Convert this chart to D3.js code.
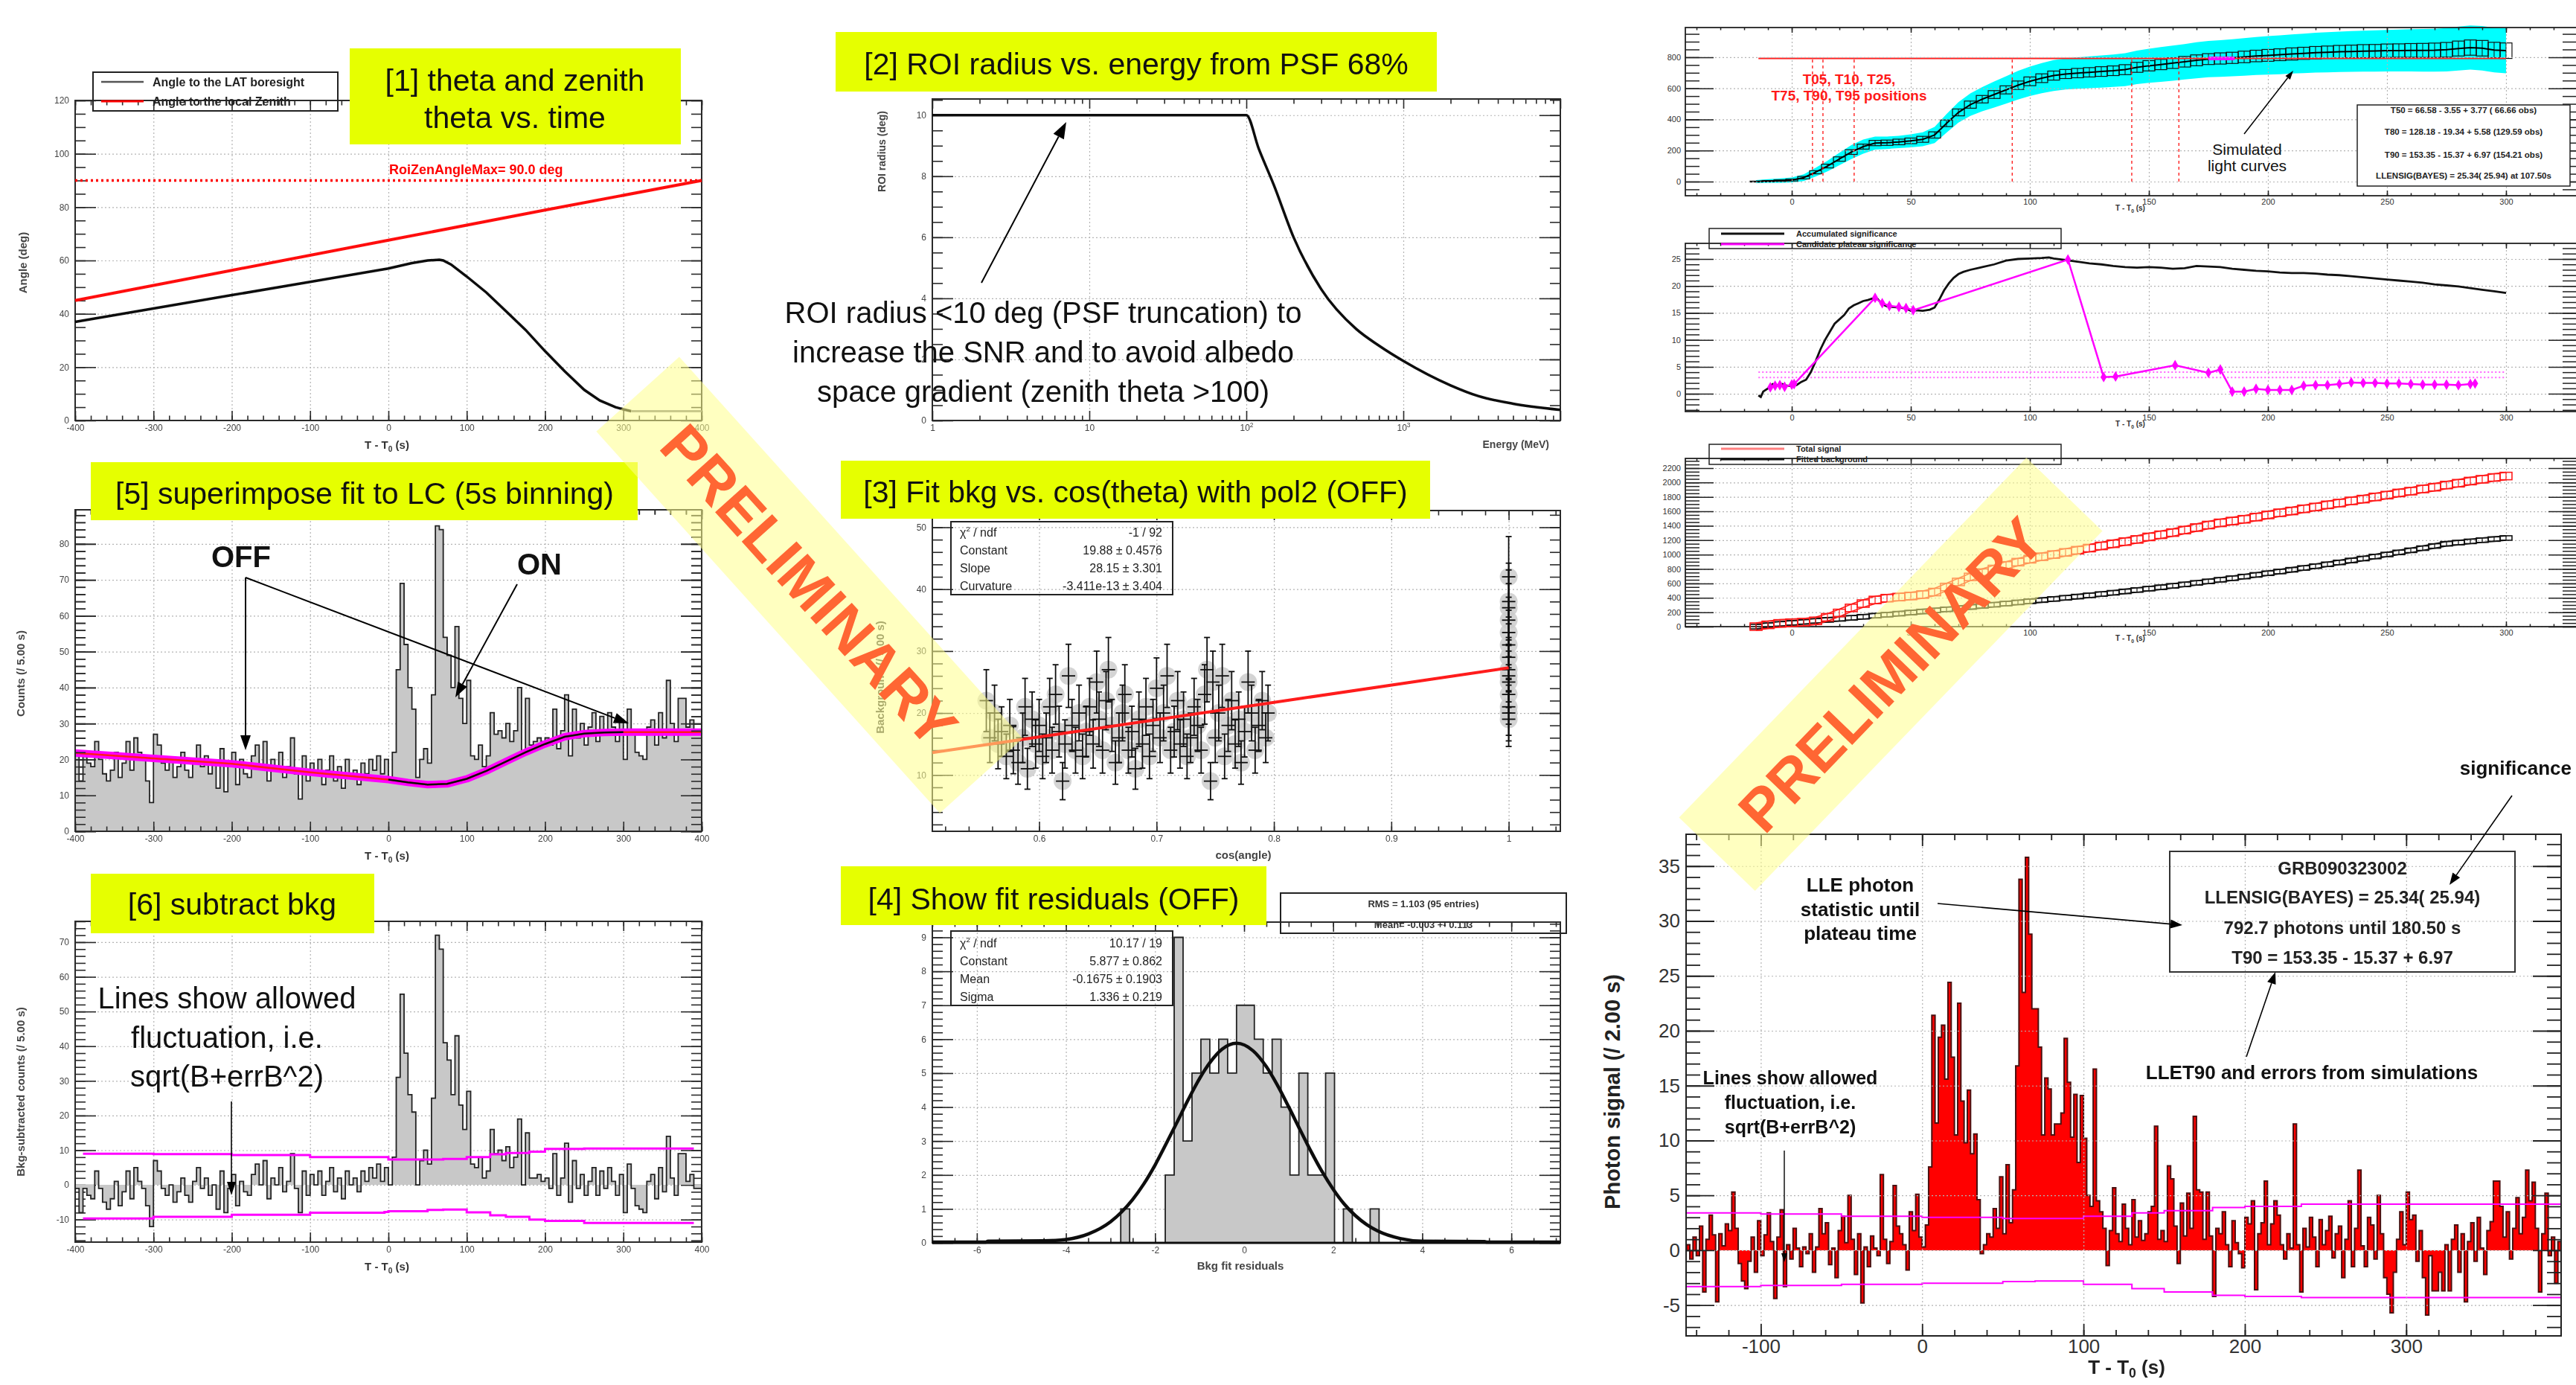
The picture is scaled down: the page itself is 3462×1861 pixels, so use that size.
<!DOCTYPE html>
<html><head><meta charset="utf-8">
<script src="https://cdn.jsdelivr.net/npm/d3@7/dist/d3.min.js"></script>
<style>
html,body{margin:0;padding:0;background:#fff;overflow:hidden;}
svg{display:block;}
</style></head><body>
<svg id="c" width="3462" height="1861" viewBox="0 0 3462 1861"></svg>
<script>
// ================= DATA =================
// [1] theta and zenith theta vs time
const boreT = [-400,-300,-200,-100,0,30,50,65,70,80,100,125,150,175,200,225,250,270,290,300,310];
const boreV = [37,42,47,52,57,59,60,60.3,60,58.5,54,48,41,34,26,18.5,11.5,7.5,5,4.2,3.5];
const boreTailT = [310,400];
const boreTailV = [3.5,3.5];
const zenT = [-400,-200,0,200,400];
const zenV = [45,56.3,67.6,78.9,90];
const roiZenMax = 90;

// [2] ROI radius vs energy
const psfE = [1,10,100,120,150,200,300,500,700,1000,2000,3000,5000,10000];
const psfR = [10,10,10,8.9,7.7,6.0,4.3,3.0,2.45,1.95,1.15,0.8,0.55,0.35];

// [5] light curve 5 s bins from -400 s
const lc5Start = -400, lc5Width = 5;
const lc5Counts = [21,14,21,19,18,25,20,16,14,17, 22,15,19,25,17,26,22,20,14,8,
 27,24,19,17,20,15,18,22,17,15, 20,24,18,21,16,19,12,23,11,18,
 22,13,20,16,15,21,24,18,25,14, 20,17,22,15,18,26,16,9,21,14,
 19,16,20,13,17,21,14,18,12,20, 15,17,13,19,16,20,17,21,16,20,
 14,22,45,69,52,40,34,15,20,23, 19,38,85,84,54,49,40,57,37,30,
 42,21,20,24,18,21,33,27,28,26, 30,25,28,40,22,37,24,25,26,25,
 26,24,34,23,28,38,21,34,26,30, 24,29,33,25,32,27,33,29,25,31,
 20,34,27,22,21,20,29,31,24,33, 26,42,30,25,37,37,29,31,27,27];
const bkgT = [-400,-300,-200,-100,0,25,50,75,100,125,150,175,200,225,250,275,300,400];
const bkgV = [21.8,20.3,18.8,16.4,14.4,13.6,13.0,13.2,14.6,16.8,19.4,22.0,24.3,26.3,27.2,27.5,27.6,27.6];

// [6] background subtracted
const sub5Counts = [-1,-8,-1,-3,-4,4,-1,-5,-7,-4, 1,-6,-2,4,-4,5,1,-1,-6,-12,
 7,4,-1,-3,0,-5,-2,2,-3,-5, 1,5,-1,2,-3,0,-7,4,-8,-1,
 3,-6,1,-2,-3,3,6,0,7,-4, 2,0,5,-2,1,9,-1,-8,4,-3,
 3,0,4,-3,1,5,-2,2,-4,4, 0,2,-2,4,1,5,2,6,1,5,
 0,8,31,55,38,26,21,0,7,10, 6,25,72,68,41,36,26,43,23,16,
 27,6,5,8,2,4,16,9,10,7, 11,5,8,19,0,15,2,2,3,1,
 2,-1,9,-3,2,12,-5,7,-1,3, -3,1,5,-3,4,-1,5,1,-3,3,
 -8,6,-1,-6,-7,-8,1,3,-4,5, -2,14,2,-3,9,9,1,3,-1,-1];
const flucT = [-390,-300,-200,-100,-5,0,50,70,100,130,150,180,200,250,300,390];
const flucUp = [9.0,8.9,8.6,8.0,8.0,7.3,7.3,7.5,8.0,8.8,9.2,9.6,10.4,10.5,10.5,10.5];
const flucLo = [-9.7,-9.2,-8.6,-8.0,-7.8,-7.6,-7.2,-7.1,-7.9,-8.8,-9.2,-10.0,-10.4,-11.0,-11.0,-11.0];

// [3] background vs cos(theta)
const cosX = [0.555,0.558,0.562,0.565,0.568,0.572,0.575,0.578,0.582,0.586,0.588,0.590,0.594,0.597,0.600,0.603,0.606,0.609,0.611,0.614,
 0.617,0.620,0.622,0.625,0.628,0.631,0.634,0.637,0.640,0.643,0.646,0.649,0.651,0.654,0.657,0.659,0.662,0.665,0.668,0.671,
 0.673,0.676,0.679,0.682,0.685,0.688,0.691,0.694,0.697,0.700,0.703,0.706,0.709,0.712,0.715,0.718,0.720,0.723,0.726,0.729,
 0.732,0.735,0.738,0.741,0.743,0.746,0.748,0.750,0.753,0.756,0.758,0.761,0.764,0.767,0.770,0.772,0.775,0.778,0.781,0.784,
 0.787,0.790,0.793,0.795,1,1,1,1,1,1,1,1,1,1,1,1,1,1];
const cosBkg = [22,16,20,15,17,13,18,14,12,16,21,11,19,15,18,13,16,21,14,23,17,9,15,26,18,14,20,13,17,21,
 15,25,19,14,22,27,18,12,16,20,23,14,17,11,19,15,21,13,18,24,16,20,26,14,17,22,15,19,13,16,
 21,18,14,23,27,9,25,16,20,26,13,18,22,15,19,12,17,25,20,14,18,22,16,20,
 19,20,21,23,25,26,27,29,31,33,35,37,38,42];
const cosErr = [5,4,4.5,4,4,3.6,4.2,3.8,3.5,4,4.6,3.3,4.4,3.9,4.2,3.6,4,4.6,3.7,4.8,4.1,3,3.9,5.1,4.2,3.7,4.5,3.6,4.1,4.6,
 3.9,5,4.4,3.7,4.7,5.2,4.2,3.5,4,4.5,4.8,3.7,4.1,3.3,4.4,3.9,4.6,3.6,4.2,4.9,4,4.5,5.1,3.7,4.1,4.7,3.9,4.4,3.6,4,
 4.6,4.2,3.7,4.8,5.2,3,5,4,4.5,5.1,3.6,4.2,4.7,3.9,4.4,3.5,4.1,5,4.5,3.7,4.2,4.7,4,4.5,
 4.4,4.5,4.6,4.8,5,5.1,5.2,5.4,5.6,5.7,5.9,6.1,6.2,6.5];
const fitCosX = [0.509,1.0];
const fitCosY = [13.6,27.3];
const stats3 = [["χ²/ ndf","-1 / 92"],["Constant","19.88 ± 0.4576"],["Slope","28.15 ± 3.301"],["Curvature","-3.411e-13 ± 3.404"]];

// [4] residuals
const resStart = -2.77, resWidth = 0.2;
const resCounts = [1,0,0,0,0,2,9,3,5,6,5,6,5,7,7,6,5,6,4,2,5,2,2,5,0,1,0,0,1];
const gausX = [-7,-5.8,-5.75,-4.5,-4,-3.5,-3,-2.75,-2.5,-2.25,-2,-1.75,-1.5,-1.25,-1,-0.75,-0.5,-0.17,0.2,0.5,0.75,1,1.25,1.5,1.75,2,2.25,2.5,2.75,3,3.5,4,5.4,5.45,7.1];
const gausY = [0.02,0.02,0.05,0.06,0.1,0.26,0.62,0.91,1.28,1.74,2.29,2.92,3.57,4.23,4.84,5.34,5.70,5.88,5.66,5.19,4.64,4.01,3.35,2.70,2.10,1.58,1.14,0.80,0.54,0.35,0.13,0.05,0.04,0.02,0.02];
const stats4 = [["χ²/ ndf","10.17 / 19"],["Constant","5.877 ± 0.862"],["Mean","-0.1675 ± 0.1903"],["Sigma","1.336 ± 0.219"]];

// Right top: cumulative light curve + simulations
const cumT = [-15,-10,-5,0,5,10,15,20,25,30,35,40,45,50,55,60,65,70,75,80,85,90,95,100,105,110,115,120,125,130,135,140,145,150,155,160,165,170,175,180,185,190,195,200,205,210,215,220,225,230,235,240,245,250,255,260,265,270,275,280,285,290,295,300];
const cumV = [0,3,6,10,25,60,100,145,190,225,248,250,255,262,272,300,375,445,495,530,560,590,620,645,665,682,692,698,703,708,713,720,735,745,753,762,771,780,788,792,796,802,808,812,816,821,825,829,832,835,837,839,840,842,843,844,844,845,848,856,862,858,846,842];
const cumErr = [3,4,5,6,8,10,12,14,15,16,17,17,18,18,19,20,21,22,23,24,25,26,27,28,28,29,29,30,30,31,31,32,32,33,33,34,34,35,35,36,36,37,37,38,38,39,39,40,40,41,41,42,42,43,43,44,45,46,47,48,49,50,50,50];
const simErr = [10,12,14,16,22,28,34,40,45,45,42,40,40,42,45,52,60,66,72,78,84,88,92,95,97,99,100,101,102,103,104,106,108,110,112,113,114,116,117,118,119,121,122,124,125,126,127,128,129,130,131,132,133,134,135,136,137,138,140,141,142,143,144,145];
const plateauPhotons = 792.7;
const plateauT = [-14,300];
const tPositions = [8.7,13.1,26.2,92.6,142.8,162.6];
const simStats = ["T50 =  66.58 -   3.55 +   3.77 ( 66.66 obs)","T80 = 128.18 -  19.34 +   5.58 (129.59 obs)","T90 = 153.35 -  15.37 +   6.97 (154.21 obs)","LLENSIG(BAYES) =  25.34( 25.94) at 107.50s"];

// Right middle: significance
const sigT = [-14,-13,-12,-10,-8,-6,-4,-2,0,2,4,6,8,10,12,14,16,18,20,22,24,26,28,30,32,34,36,38,40,42,45,48,50,52,55,58,60,62,64,66,68,70,72,75,78,80,85,90,95,100,105,108,110,115,120,125,130,135,140,145,150,155,160,165,170,175,180,185,190,195,200,205,210,215,220,225,230,235,240,245,250,255,260,265,270,275,280,285,290,295,300];
const sigV = [-0.3,-0.6,0.4,1.0,1.8,1.6,1.8,1.5,1.4,1.6,2.2,2.6,4.0,6.0,8.2,10.0,11.5,13.0,13.8,14.6,15.8,16.4,16.8,17.2,17.4,17.7,17.6,16.6,16.2,16.1,16.0,15.8,15.4,15.5,15.4,15.6,16.0,17.5,19.2,20.5,21.5,22.2,22.6,23.0,23.3,23.5,24.0,24.7,25.0,25.1,25.2,25.3,25.1,24.8,24.5,24.2,24.0,23.7,23.5,23.4,23.5,23.4,23.2,23.3,23.7,23.6,23.5,23.2,23.0,22.8,22.7,22.5,22.4,22.4,22.3,22.1,22.0,21.8,21.6,21.4,21.2,21.0,20.8,20.6,20.3,20.1,19.9,19.6,19.3,19.0,18.7];
const plT = [-9,-7,-5,-3,0,1,35,38,41,45,48,51,116,131,136,161,175,180,185,190,195,200,205,210,215,220,225,230,235,240,245,250,255,260,265,270,275,280,285,287];
const plV = [1.2,1.5,1.6,1.3,1.7,1.8,17.8,16.8,16.3,16.1,15.9,15.5,24.9,3.1,3.2,5.3,3.9,4.5,0.4,0.4,0.9,0.7,0.7,0.7,1.5,1.6,1.6,1.8,2.1,2.0,2.0,1.9,1.9,1.8,1.7,1.7,1.7,1.6,1.8,1.9];
const sigThresholds = [3,4];

// Right lower: total signal vs fitted background
const totV = [0,25,45,55,62,80,130,190,260,320,370,395,410,425,445,480,550,620,690,750,800,850,895,935,970,1000,1030,1060,1090,1120,1150,1180,1210,1245,1275,1305,1340,1375,1410,1440,1465,1490,1520,1550,1580,1605,1635,1660,1690,1715,1745,1770,1800,1825,1855,1880,1910,1935,1965,1990,2020,2045,2070,2090];
const fbkV = [0,20,38,52,66,80,94,108,122,137,152,166,180,195,210,225,240,256,272,288,304,320,336,352,368,384,400,417,434,452,470,489,508,527,546,566,586,607,628,650,672,695,718,741,765,789,814,839,865,891,918,945,973,1001,1030,1059,1089,1119,1150,1166,1183,1200,1215,1230];

// Big panel: LLE photon signal, 2 s bins from -146 s
const lleStart = -146, lleWidth = 2;
const lleSignal = [0.5,-0.8,1.2,-0.5,2.2,-3.8,1.0,3.2,1.4,-4.7,
 1.5,0.4,2.4,1.8,5.3,2.0,-1.2,-2.8,-3.5,-1.0,
 1.2,-2.0,2.7,-0.5,1.4,3.4,0.8,-4.4,1.2,3.7,
 -3.3,0.5,-0.8,2.0,0.2,-1.5,0.3,-0.3,1.5,-2.0,
 0.3,3.8,1.5,2.5,-1.3,0.2,-2.5,1.8,3.1,0.7,
 5.0,1.0,-2.2,1.5,-4.8,0.3,-1.5,1.3,0.2,-0.5,
 6.9,1.0,-1.2,0.8,5.9,2.2,1.5,0.5,-1.8,3.5,
 1.8,5.1,1.2,0.3,2.3,7.6,21.4,11.6,19.4,20.5,
 15.6,24.4,17.6,10.5,22.5,13.6,9.8,14.6,8.8,10.6,
 4.6,-0.3,0.5,1.5,1.2,3.8,2.0,6.7,1.5,7.8,
 2.5,5.5,16.8,33.8,23.5,35.8,28.8,22.0,22.0,18.5,
 10.5,15.7,14.7,10.5,11.5,11.5,12.5,19.3,15.3,10.3,
 14.2,8.0,14.1,10.2,5.0,4.0,16.5,4.5,3.5,2.0,
 -1.4,1.8,5.7,1.5,0.8,4.2,2.0,0.5,4.6,1.2,
 2.7,0.9,1.5,3.5,4.0,11.3,1.0,1.8,0.8,7.7,
 6.5,2.2,-1.2,4.3,1.3,5.2,2.0,12.2,5.5,5.3,
 1.0,5.3,1.3,-4.2,2.0,1.5,3.5,0.5,-1.5,2.7,
 0.7,-0.3,-1.6,3.0,2.4,4.5,-3.6,1.5,2.5,6.3,
 0.5,2.4,4.5,3.2,0.5,-0.8,1.5,0.2,11.5,0.5,
 -3.8,2.0,0.3,3.0,1.2,-1.5,2.8,0.5,1.8,3.1,
 -0.7,1.5,2.2,-2.5,1.0,4.5,-1.5,2.0,7.3,0.4,
 -1.5,3.0,2.3,-0.8,5.0,1.5,-2.5,-4.0,-5.7,-2.0,
 1.0,3.5,0.5,5.3,2.8,3.2,-1.0,1.8,-2.5,-5.9,
 -0.5,-3.7,-3.7,-2.0,-3.7,0.5,-3.7,1.0,2.3,-2.0,
 1.5,-4.7,0.8,2.5,-1.0,3.0,0.2,-2.2,1.8,2.6,
 6.3,6.3,4.0,1.2,3.5,-0.8,2.0,4.8,1.5,3.0,
 7.3,4.5,6.2,2.0,-3.8,1.5,5.2,-0.5,1.2,-3.0,
 0.8];
const lleFlucT = [-146,-100,-50,0,50,70,100,130,150,180,200,235,396];
const lleFlucUp = [3.4,3.3,3.1,3.0,2.9,2.9,3.1,3.4,3.6,3.9,4.0,4.2,4.2];
const lleFlucLo = [-3.3,-3.2,-3.1,-3.0,-2.85,-2.8,-3.1,-3.5,-3.8,-4.1,-4.2,-4.3,-4.3];
const lleStats = ["GRB090323002","LLENSIG(BAYES) =  25.34( 25.94)","792.7 photons until 180.50 s","T90 = 153.35 -  15.37 +   6.97"];

// ================= HELPERS =================
const FONT = "'Liberation Sans', Arial, Helvetica, sans-serif";
const svg = d3.select('#c');
svg.append('rect').attr('width',3462).attr('height',1861).attr('fill','#fff');
const defs = svg.append('defs');
defs.append('filter').attr('id','soft').attr('x','-5%').attr('y','-5%').attr('width','110%').attr('height','110%')
  .append('feGaussianBlur').attr('stdDeviation',0.7);

function rng(a,b,s){const r=[];for(let v=a;v<=b+1e-9;v+=s)r.push(+v.toFixed(6));return r;}

function txt(g,x,y,s,o={}){
  return g.append('text').attr('x',x).attr('y',y).text(s)
    .attr('font-size',o.fs||14).attr('text-anchor',o.anchor||'start')
    .attr('font-weight',o.fw||'normal').attr('fill',o.fill||'#000')
    .attr('font-family',o.ff||FONT);
}
function tLabel(g,x,y,fs,o={}){
  const sub=o.sub||0.28;
  const t=g.append('text').attr('x',x).attr('y',y).attr('text-anchor','middle')
    .attr('font-size',fs).attr('font-family',FONT).attr('font-weight',o.fw||'bold').attr('fill',o.fill||'#222');
  t.append('tspan').text('T - T');
  t.append('tspan').attr('font-size',fs*0.68).attr('dy',fs*sub).text('0');
  t.append('tspan').attr('dy',-fs*sub).text(' (s)');
  return t;
}
function arrow(g,x1,y1,x2,y2,o={}){
  const w=o.w||1.6,h=o.h||16,hw=o.hw||6,col=o.col||'#000';
  const a=Math.atan2(y2-y1,x2-x1);
  const bx=x2-h*Math.cos(a), by=y2-h*Math.sin(a);
  g.append('line').attr('x1',x1).attr('y1',y1).attr('x2',bx).attr('y2',by).attr('stroke',col).attr('stroke-width',w);
  const px=-Math.sin(a)*hw, py=Math.cos(a)*hw;
  g.append('path').attr('d',`M${x2},${y2}L${bx+px},${by+py}L${bx-px},${by-py}Z`).attr('fill',col);
}
function inDom(s){const [a,b]=d3.extent(s.domain());return v=>v>=a-1e-9&&v<=b+1e-9;}

function drawAxes(g,xS,yS,c){
  const [X0,X1]=xS.range(), [Y0,Y1]=yS.range();
  const W=X1-X0,H=Y0-Y1;
  const fx=inDom(xS), fy=inDom(yS);
  const xMaj=c.xMaj.filter(fx), xMin=(c.xMin||[]).filter(fx);
  const yMaj=c.yMaj.filter(fy), yMin=(c.yMin||[]).filter(fy);
  const col=c.col||'#222', tw=c.tw||1.6, lc=c.lc||'#333';
  const st=(s,lab)=>{s.select('.domain').remove();s.selectAll('line').attr('stroke',col).attr('stroke-width',tw);
    if(lab) s.selectAll('text').attr('font-size',c.fs).attr('fill',lc).attr('font-family',FONT).attr('font-weight',c.lw||'normal');};
  if(c.grid!==false){
    const gs=s=>{s.select('.domain').remove();s.selectAll('line').attr('stroke',c.gc||'#b4b4b4').attr('stroke-width',1.2).attr('stroke-dasharray','2,3');};
    g.append('g').attr('transform',`translate(0,${Y0})`).call(d3.axisBottom(xS).tickValues(c.xGrid||xMaj).tickSize(-H).tickFormat('')).call(gs);
    g.append('g').attr('transform',`translate(${X0},0)`).call(d3.axisLeft(yS).tickValues(c.yGrid||yMaj).tickSize(-W).tickFormat('')).call(gs);
  }
  const xf=c.xFmt||(d=>String(d)), yf=c.yFmt||(d=>String(d));
  g.append('g').attr('transform',`translate(0,${Y0})`).call(d3.axisBottom(xS).tickValues(xMin).tickSize(-c.xL/2).tickFormat('')).call(s=>st(s));
  const bx=g.append('g').attr('transform',`translate(0,${Y0})`).call(d3.axisBottom(xS).tickValues(xMaj).tickSize(-c.xL).tickPadding(c.xPad).tickFormat(xf)).call(s=>st(s,true));
  g.append('g').attr('transform',`translate(0,${Y1})`).call(d3.axisTop(xS).tickValues(xMin).tickSize(-c.xL/2).tickFormat('')).call(s=>st(s));
  g.append('g').attr('transform',`translate(0,${Y1})`).call(d3.axisTop(xS).tickValues(xMaj).tickSize(-c.xL).tickFormat('')).call(s=>st(s));
  g.append('g').attr('transform',`translate(${X0},0)`).call(d3.axisLeft(yS).tickValues(yMin).tickSize(-c.yL/2).tickFormat('')).call(s=>st(s));
  g.append('g').attr('transform',`translate(${X0},0)`).call(d3.axisLeft(yS).tickValues(yMaj).tickSize(-c.yL).tickPadding(c.yPad).tickFormat(yf)).call(s=>st(s,true));
  g.append('g').attr('transform',`translate(${X1},0)`).call(d3.axisRight(yS).tickValues(yMin).tickSize(-c.yL/2).tickFormat('')).call(s=>st(s));
  g.append('g').attr('transform',`translate(${X1},0)`).call(d3.axisRight(yS).tickValues(yMaj).tickSize(-c.yL).tickFormat('')).call(s=>st(s));
  g.append('rect').attr('x',X0).attr('y',Y1).attr('width',W).attr('height',H).attr('fill','none').attr('stroke',col).attr('stroke-width',c.fw||2);
  return bx;
}
function histPath(xS,yS,start,width,vals,close){
  let p=`M${xS(start)},${yS(0)}`;
  vals.forEach((v,i)=>{p+=`V${yS(v)}H${xS(start+(i+1)*width)}`;});
  p+=`V${yS(0)}`; if(close)p+='Z'; return p;
}
function titleBox(x0,y0,x1,y1,lines,cx,baselines,fs){
  svg.append('rect').attr('x',x0).attr('y',y0).attr('width',x1-x0).attr('height',y1-y0).attr('fill','#e6ff00');
  lines.forEach((l,i)=>txt(svg,cx,baselines[i],l,{fs:fs||41,anchor:'middle',fill:'#111'}));
}
function statsBox(g,x0,y0,x1,y1,rows,rowY,fs){
  g.append('rect').attr('x',x0).attr('y',y0).attr('width',x1-x0).attr('height',y1-y0).attr('fill','none').attr('stroke','#222').attr('stroke-width',2);
  rows.forEach((r,i)=>{
    const t=txt(g,x0+12,rowY[i],'',{fs:fs,fill:'#222'});
    if(r[0].startsWith('χ')){t.append('tspan').text('χ');t.append('tspan').attr('font-size',fs*0.6).attr('dy',-fs*0.45).text('2');t.append('tspan').attr('dy',fs*0.45).text(' / ndf');}
    else t.text(r[0]);
    txt(g,x1-14,rowY[i],r[1],{fs:fs,anchor:'end',fill:'#222'});
  });
}
const LEFT = {fs:12,xL:13,yL:28,xPad:5,yPad:8,col:'#2a2a2a',lc:'#444'};

// ================= [1] =================
{
  const g=svg.append('g').attr('filter','url(#soft)');
  const xS=d3.scaleLinear().domain([-400,400]).range([101,943]);
  const yS=d3.scaleLinear().domain([0,120]).range([565,135]);
  drawAxes(g,xS,yS,{...LEFT,xMaj:rng(-400,400,100),xMin:rng(-400,400,20),yMaj:rng(0,120,20),yMin:rng(0,120,5)});
  const ln=d3.line().x(d=>xS(d[0])).y(d=>yS(d[1]));
  g.append('line').attr('x1',xS(-400)).attr('x2',xS(400)).attr('y1',yS(roiZenMax)).attr('y2',yS(roiZenMax)).attr('stroke','#ff0000').attr('stroke-width',3.5).attr('stroke-dasharray','3,4');
  g.append('path').attr('d',ln(d3.zip(zenT,zenV))).attr('fill','none').attr('stroke','#ff1010').attr('stroke-width',4);
  g.append('path').attr('d',ln(d3.zip(boreT,boreV))).attr('fill','none').attr('stroke','#111').attr('stroke-width',3.5);
  g.append('path').attr('d',ln(d3.zip(boreTailT,boreTailV))).attr('fill','none').attr('stroke','#888').attr('stroke-width',3);
  txt(g,523,234,'RoiZenAngleMax= 90.0 deg',{fs:18,fill:'#ff0000',fw:'bold'});
  g.append('rect').attr('x',125).attr('y',97).attr('width',329).attr('height',52).attr('fill','none').attr('stroke','#222').attr('stroke-width',2);
  g.append('line').attr('x1',136).attr('x2',193).attr('y1',110).attr('y2',110).attr('stroke','#555').attr('stroke-width',2.5);
  g.append('line').attr('x1',136).attr('x2',193).attr('y1',136).attr('y2',136).attr('stroke','#ff0000').attr('stroke-width',3);
  txt(g,205,116,'Angle to the LAT boresight',{fs:16,fill:'#222',fw:'bold'});
  txt(g,205,142,'Angle to the local Zenith',{fs:16,fill:'#222',fw:'bold'});
  txt(g,0,0,'Angle (deg)',{fs:15,anchor:'middle',fw:'bold',fill:'#444'}).attr('transform','translate(36,353) rotate(-90)');
  tLabel(g,520,603,15,{fill:'#333'});
}
// ================= [2] =================
{
  const g=svg.append('g').attr('filter','url(#soft)');
  const xS=d3.scaleLog().domain([1,1e4]).range([1253,2097]);
  const yS=d3.scaleLinear().domain([0,10.53]).range([565,133]);
  const minors=[];[1,10,100,1000].forEach(d=>{for(let k=2;k<=9;k++)minors.push(d*k);});
  const bx=drawAxes(g,xS,yS,{...LEFT,xMaj:[1,10,100,1000,10000],xMin:minors,yMaj:rng(0,10,2),yMin:rng(0,10.5,0.5),
    xGrid:[10,100,1000],xFmt:d=>d===10000?'':(d>=100?'10':String(d))});
  bx.selectAll('.tick text').each(function(d){ if(d>=100&&d<10000){d3.select(this).append('tspan').attr('dy','-0.55em').attr('font-size','0.7em').text(Math.round(Math.log10(d)));}});
  const ln=d3.line().x(d=>xS(d[0])).y(d=>yS(d[1])).curve(d3.curveMonotoneX);
  g.append('path').attr('d',ln(d3.zip(psfE,psfR))).attr('fill','none').attr('stroke','#111').attr('stroke-width',3.5);
  txt(g,0,0,'ROI radius (deg)',{fs:14,anchor:'end',fw:'bold',fill:'#444'}).attr('transform','translate(1190,149) rotate(-90)');
  txt(g,2082,602,'Energy (MeV)',{fs:14,anchor:'end',fw:'bold',fill:'#444'});
}
// ================= [5] =================
{
  const g=svg.append('g').attr('filter','url(#soft)');
  const xS=d3.scaleLinear().domain([-400,400]).range([101,943]);
  const yS=d3.scaleLinear().domain([0,89.5]).range([1117,685]);
  drawAxes(g,xS,yS,{...LEFT,xMaj:rng(-400,400,100),xMin:rng(-400,400,20),yMaj:rng(0,80,10),yMin:rng(0,88,2)});
  g.append('path').attr('d',histPath(xS,yS,lc5Start,lc5Width,lc5Counts,true)).attr('fill','#c8c8c8').attr('stroke','none');
  g.append('path').attr('d',histPath(xS,yS,lc5Start,lc5Width,lc5Counts,false)).attr('fill','none').attr('stroke','#222').attr('stroke-width',1.8);
  const ln=d3.line().x(d=>xS(d[0])).y(d=>yS(d[1]));
  const bk=d3.zip(bkgT,bkgV);
  g.append('path').attr('d',ln(bk)).attr('fill','none').attr('stroke','#ff00ff').attr('stroke-width',10).attr('stroke-linejoin','round');
  g.append('path').attr('d',ln(bk)).attr('fill','none').attr('stroke','#ff1a1a').attr('stroke-width',2.5);
  g.append('path').attr('d',ln(bk.filter(d=>d[0]>=0&&d[0]<=300))).attr('fill','none').attr('stroke','#111').attr('stroke-width',2.5);
  drawAxes(g,xS,yS,{...LEFT,grid:false,xMaj:rng(-400,400,100),xMin:rng(-400,400,20),yMaj:rng(0,80,10),yMin:rng(0,88,2),xFmt:()=>'',yFmt:()=>''});
  txt(g,0,0,'Counts (/ 5.00 s)',{fs:15,anchor:'middle',fw:'bold',fill:'#444'}).attr('transform','translate(33,905) rotate(-90)');
  tLabel(g,520,1155,15,{fill:'#333'});
}
// ================= [3] =================
{
  const g=svg.append('g').attr('filter','url(#soft)');
  const xS=d3.scaleLinear().domain([0.509,1.044]).range([1253,2097]);
  const yS=d3.scaleLinear().domain([0.9,52.7]).range([1117,686]);
  drawAxes(g,xS,yS,{...LEFT,xMaj:[0.6,0.7,0.8,0.9,1],xMin:rng(0.52,1.04,0.02),yMaj:rng(10,50,10),yMin:rng(2,52,2)});
  const pts=d3.zip(cosX,cosBkg,cosErr);
  g.selectAll('circle.p3').data(pts).enter().append('circle').attr('cx',d=>xS(d[0])).attr('cy',d=>yS(d[1])).attr('r',12).attr('fill','#cdcdcd').attr('opacity',0.85);
  const eb=g.append('g').attr('stroke','#111').attr('stroke-width',1.8);
  pts.forEach(d=>{
    const x=xS(d[0]);
    eb.append('line').attr('x1',x).attr('x2',x).attr('y1',yS(d[1]-d[2])).attr('y2',yS(d[1]+d[2]));
    eb.append('line').attr('x1',x-4).attr('x2',x+4).attr('y1',yS(d[1]-d[2])).attr('y2',yS(d[1]-d[2]));
    eb.append('line').attr('x1',x-4).attr('x2',x+4).attr('y1',yS(d[1]+d[2])).attr('y2',yS(d[1]+d[2]));
    eb.append('line').attr('x1',x-9).attr('x2',x+9).attr('y1',yS(d[1])).attr('y2',yS(d[1]));
  });
  g.append('path').attr('d',d3.line().x(d=>xS(d[0])).y(d=>yS(d[1]))(d3.zip(fitCosX,fitCosY))).attr('stroke','#ff1a1a').attr('stroke-width',4).attr('fill','none');
  statsBox(g,1278,701,1576,799,stats3,[721,745,769,793],16);
  txt(g,0,0,'Background (/ 5.00 s)',{fs:15,anchor:'middle',fw:'bold',fill:'#444'}).attr('transform','translate(1188,910) rotate(-90)');
  txt(g,1671,1154,'cos(angle)',{fs:15,anchor:'middle',fw:'bold',fill:'#444'});
}
// ================= [6] =================
{
  const g=svg.append('g').attr('filter','url(#soft)');
  const xS=d3.scaleLinear().domain([-400,400]).range([101,943]);
  const yS=d3.scaleLinear().domain([-16.5,76]).range([1669,1238]);
  drawAxes(g,xS,yS,{...LEFT,xMaj:rng(-400,400,100),xMin:rng(-400,400,20),yMaj:rng(-10,70,10),yMin:rng(-16,76,2)});
  g.append('path').attr('d',histPath(xS,yS,lc5Start,lc5Width,sub5Counts,true)).attr('fill','#c8c8c8');
  g.append('path').attr('d',histPath(xS,yS,lc5Start,lc5Width,sub5Counts,false)).attr('fill','none').attr('stroke','#222').attr('stroke-width',1.8);
  const ln=d3.line().x(d=>xS(d[0])).y(d=>yS(d[1])).curve(d3.curveStepAfter);
  g.append('path').attr('d',ln(d3.zip(flucT,flucUp))).attr('fill','none').attr('stroke','#ff00ff').attr('stroke-width',3);
  g.append('path').attr('d',ln(d3.zip(flucT,flucLo))).attr('fill','none').attr('stroke','#ff00ff').attr('stroke-width',3);
  txt(g,0,0,'Bkg-subtracted counts (/ 5.00 s)',{fs:15,anchor:'middle',fw:'bold',fill:'#444'}).attr('transform','translate(33,1467) rotate(-90)');
  tLabel(g,520,1707,15,{fill:'#333'});
}
// ================= [4] =================
{
  const g=svg.append('g').attr('filter','url(#soft)');
  const xS=d3.scaleLinear().domain([-7,7.1]).range([1253,2097]);
  const yS=d3.scaleLinear().domain([0,9.45]).range([1670,1239]);
  drawAxes(g,xS,yS,{...LEFT,xMaj:rng(-6,6,2),xMin:rng(-7,7,0.5),yMaj:rng(0,9,1),yMin:rng(0,9.4,0.2)});
  g.append('path').attr('d',histPath(xS,yS,resStart,resWidth,resCounts,true)).attr('fill','#c8c8c8');
  g.append('path').attr('d',histPath(xS,yS,resStart,resWidth,resCounts,false)).attr('fill','none').attr('stroke','#222').attr('stroke-width',1.8);
  g.append('line').attr('x1',xS(-7)).attr('x2',xS(7.1)).attr('y1',yS(0)).attr('y2',yS(0)).attr('stroke','#111').attr('stroke-width',3);
  g.append('path').attr('d',d3.line().x(d=>xS(d[0])).y(d=>yS(d[1])).curve(d3.curveMonotoneX)(d3.zip(gausX,gausY))).attr('fill','none').attr('stroke','#111').attr('stroke-width',4.5);
  statsBox(g,1278,1251,1576,1351,stats4,[1273,1297,1321,1345],16);
  g.append('rect').attr('x',1721).attr('y',1200).attr('width',384).attr('height',54).attr('fill','none').attr('stroke','#222').attr('stroke-width',2);
  txt(g,1913,1219,'RMS =  1.103 (95 entries)',{fs:13,anchor:'middle',fw:'bold',fill:'#333'});
  txt(g,1913,1247,'Mean=  -0.003 +- 0.113',{fs:13,anchor:'middle',fw:'bold',fill:'#333'});
  txt(g,1667,1706,'Bkg fit residuals',{fs:15,anchor:'middle',fw:'bold',fill:'#444'});
}
// ================= RIGHT A: cumulative =================
const RX=[-44.7,329.7], RR=[2265,3463];
const RIGHT={fs:11,xL:7,yL:38,xPad:4,yPad:6,col:'#222',lc:'#333',fw:1.8,tw:1.5};
{
  const g=svg.append('g');
  const xS=d3.scaleLinear().domain(RX).range(RR);
  const yS=d3.scaleLinear().domain([-91,991]).range([263,37]);
  const band=g.append('g');
  const area=d3.area().x(d=>xS(d[0])).y0(d=>yS(d[1]-d[3])).y1(d=>yS(d[1]+d[3]));
  const rows=d3.zip(cumT,cumV,cumErr,simErr);
  band.append('path').attr('d',area(rows)).attr('fill','#00ffff');
  rows.forEach(d=>{
    band.append('rect').attr('x',xS(d[0]-2.5)).attr('width',xS(d[0]+2.5)-xS(d[0]-2.5)).attr('y',yS(d[1]+d[2])).attr('height',yS(d[1]-d[2])-yS(d[1]+d[2]))
      .attr('fill','none').attr('stroke','#111').attr('stroke-width',1.2);
    band.append('line').attr('x1',xS(d[0])).attr('x2',xS(d[0])).attr('y1',yS(d[1]+d[2])).attr('y2',yS(d[1]-d[2])).attr('stroke','#111').attr('stroke-width',1);
  });
  band.append('path').attr('d',d3.line().x(d=>xS(d[0])).y(d=>yS(d[1]))(rows)).attr('fill','none').attr('stroke','#000').attr('stroke-width',2);
  g.append('line').attr('x1',xS(plateauT[0])).attr('x2',xS(plateauT[1])).attr('y1',yS(plateauPhotons)).attr('y2',yS(plateauPhotons)).attr('stroke','#ff2020').attr('stroke-width',2);
  g.append('line').attr('x1',xS(175)).attr('x2',xS(186)).attr('y1',yS(plateauPhotons)).attr('y2',yS(plateauPhotons)).attr('stroke','#ff00ff').attr('stroke-width',5);
  tPositions.forEach(t=>g.append('line').attr('x1',xS(t)).attr('x2',xS(t)).attr('y1',yS(0)).attr('y2',yS(plateauPhotons)).attr('stroke','#ff2020').attr('stroke-width',1.4).attr('stroke-dasharray','4,4'));
  drawAxes(g,xS,yS,{...RIGHT,xMaj:rng(0,300,50),xMin:rng(-40,320,10),yMaj:rng(0,800,200),yMin:rng(-50,950,50)});
  txt(g,2485,113,'T05, T10, T25,',{fs:19,anchor:'middle',fill:'#ff1a1a',fw:'bold'});
  txt(g,2485,135,'T75, T90, T95  positions',{fs:19,anchor:'middle',fill:'#ff1a1a',fw:'bold'});
  txt(g,3020,208,'Simulated',{fs:21,anchor:'middle',fill:'#111'});
  txt(g,3020,230,'light curves',{fs:21,anchor:'middle',fill:'#111'});
  arrow(g,3016,180,3082,95,{w:1.5,h:12,hw:4});
  g.append('rect').attr('x',3168).attr('y',141).attr('width',286).attr('height',109).attr('fill','#fff').attr('stroke','#222').attr('stroke-width',1.5);
  simStats.forEach((s,i)=>txt(g,3311,[152,181,212,240][i],s,{fs:11.5,anchor:'middle',fw:'bold',fill:'#222'}));
  tLabel(g,2863,283,10,{fill:'#333'});
}
// ================= RIGHT B: significance =================
{
  const g=svg.append('g');
  const xS=d3.scaleLinear().domain(RX).range(RR);
  const yS=d3.scaleLinear().domain([-3.3,27.9]).range([553,327]);
  drawAxes(g,xS,yS,{...RIGHT,xMaj:rng(0,300,50),xMin:rng(-40,320,10),yMaj:rng(0,25,5),yMin:rng(-3,27,1)});
  sigThresholds.forEach(v=>g.append('line').attr('x1',xS(-14)).attr('x2',xS(300)).attr('y1',yS(v)).attr('y2',yS(v)).attr('stroke','#ff66ff').attr('stroke-width',2).attr('stroke-dasharray','2,3'));
  const ln=d3.line().x(d=>xS(d[0])).y(d=>yS(d[1]));
  g.append('path').attr('d',ln(d3.zip(sigT,sigV))).attr('fill','none').attr('stroke','#111').attr('stroke-width',2.8);
  const pl=d3.zip(plT,plV);
  g.append('path').attr('d',ln(pl)).attr('fill','none').attr('stroke','#ff00ff').attr('stroke-width',2.5);
  g.selectAll('path.pm').data(pl).enter().append('path').attr('transform',d=>`translate(${xS(d[0])},${yS(d[1])})`)
    .attr('d',d3.symbol(d3.symbolDiamond,60)).attr('fill','#ff00ff');
  g.append('rect').attr('x',2297).attr('y',307).attr('width',473).attr('height',27).attr('fill','none').attr('stroke','#222').attr('stroke-width',1.5);
  g.append('line').attr('x1',2313).attr('x2',2398).attr('y1',314).attr('y2',314).attr('stroke','#111').attr('stroke-width',3);
  g.append('line').attr('x1',2313).attr('x2',2398).attr('y1',328).attr('y2',328).attr('stroke','#ff00ff').attr('stroke-width',3);
  txt(g,2414,318,'Accumulated significance',{fs:11,fill:'#222',fw:'bold'});
  txt(g,2414,332,'Candidate plateau significance',{fs:11,fill:'#222',fw:'bold'});
  tLabel(g,2863,573,10,{fill:'#333'});
}
// ================= RIGHT C: total signal =================
{
  const g=svg.append('g');
  const xS=d3.scaleLinear().domain(RX).range(RR);
  const yS=d3.scaleLinear().domain([0,2334]).range([842,616]);
  drawAxes(g,xS,yS,{...RIGHT,xMaj:rng(0,300,50),xMin:rng(-40,320,10),yMaj:rng(0,2200,200),yMin:rng(0,2300,50)});
  const boxes=(vals,col,hh)=>{
    const pts=d3.zip(cumT,vals);
    const lnU=d3.line().x(d=>xS(d[0])).y(d=>yS(d[1])-hh), lnD=d3.line().x(d=>xS(d[0])).y(d=>yS(d[1])+hh);
    g.append('path').attr('d',lnU(pts)).attr('fill','none').attr('stroke',col).attr('stroke-width',1.6);
    g.append('path').attr('d',lnD(pts)).attr('fill','none').attr('stroke',col).attr('stroke-width',1.6);
    pts.forEach(d=>{
      g.append('rect').attr('x',xS(d[0]-2.5)).attr('width',xS(d[0]+2.5)-xS(d[0]-2.5)).attr('y',yS(d[1])-hh).attr('height',2*hh)
       .attr('fill','none').attr('stroke',col).attr('stroke-width',1.6);
      g.append('line').attr('x1',xS(d[0])).attr('x2',xS(d[0])).attr('y1',yS(d[1])-hh).attr('y2',yS(d[1])+hh).attr('stroke',col).attr('stroke-width',1.2);
    });
  };
  boxes(fbkV,'#111',3);
  boxes(totV,'#ff1a1a',5);
  g.append('rect').attr('x',2297).attr('y',597).attr('width',473).attr('height',27).attr('fill','none').attr('stroke','#222').attr('stroke-width',1.5);
  g.append('line').attr('x1',2313).attr('x2',2398).attr('y1',603).attr('y2',603).attr('stroke','#ff8080').attr('stroke-width',3);
  g.append('line').attr('x1',2313).attr('x2',2398).attr('y1',617).attr('y2',617).attr('stroke','#111').attr('stroke-width',3);
  txt(g,2414,607,'Total signal',{fs:11,fill:'#222',fw:'bold'});
  txt(g,2414,621,'Fitted background',{fs:11,fill:'#222',fw:'bold'});
  tLabel(g,2863,861,10,{fill:'#333'});
}
// ================= BIG: LLE photon signal =================
{
  const g=svg.append('g');
  const xS=d3.scaleLinear().domain([-146.3,396]).range([2266,3442]);
  const yS=d3.scaleLinear().domain([-7.8,37.9]).range([1795,1121]);
  g.append('path').attr('d',histPath(xS,yS,lleStart,lleWidth,lleSignal,true)).attr('fill','#ff0000');
  g.append('path').attr('d',histPath(xS,yS,lleStart,lleWidth,lleSignal,false)).attr('fill','none').attr('stroke','#4a1010').attr('stroke-width',2);
  const ln=d3.line().x(d=>xS(d[0])).y(d=>yS(d[1])).curve(d3.curveStepAfter);
  g.append('path').attr('d',ln(d3.zip(lleFlucT,lleFlucUp))).attr('fill','none').attr('stroke','#ff00ff').attr('stroke-width',2);
  g.append('path').attr('d',ln(d3.zip(lleFlucT,lleFlucLo))).attr('fill','none').attr('stroke','#ff00ff').attr('stroke-width',2);
  drawAxes(g,xS,yS,{fs:26,xL:16,yL:38,xPad:5,yPad:8,col:'#222',lc:'#333',fw:2,tw:1.8,
    xMaj:rng(-100,300,100),xMin:rng(-140,380,20),yMaj:rng(-5,35,5),yMin:rng(-7,37,1)});
  txt(g,0,0,'Photon signal (/ 2.00 s)',{fs:29,anchor:'middle',fw:'bold',fill:'#222'}).attr('transform','translate(2177,1467) rotate(-90)');
  tLabel(g,2858,1846,26,{fill:'#222',sub:0.2});
  g.append('rect').attr('x',2916).attr('y',1144).attr('width',464).attr('height',162).attr('fill','none').attr('stroke','#333').attr('stroke-width',2);
  lleStats.forEach((s,i)=>txt(g,3148,[1175,1214,1255,1295][i],s,{fs:24,anchor:'middle',fw:'bold',fill:'#222'}));
  [['LLE photon',1198],['statistic until',1231],['plateau time',1263]].forEach(d=>txt(g,2500,d[1],d[0],{fs:26,anchor:'middle',fw:'bold',fill:'#111'}));
  arrow(g,2604,1214,2933,1243,{w:1.6,h:16,hw:6});
  [['Lines show allowed',1457],['fluctuation, i.e.',1490],['sqrt(B+errB^2)',1523]].forEach(d=>txt(g,2406,d[1],d[0],{fs:25,anchor:'middle',fw:'bold',fill:'#111'}));
  arrow(g,2398,1546,2398,1696,{w:1.4,h:12,hw:4});
  txt(g,3107,1450,'LLET90 and errors from simulations',{fs:26,anchor:'middle',fw:'bold',fill:'#111'});
  arrow(g,3019,1420,3058,1306,{w:1.6,h:16,hw:6});
  txt(g,3456,1041,'significance',{fs:26,fw:'bold',fill:'#111',anchor:'end'});
  arrow(g,3376,1069,3292,1189,{w:1.6,h:16,hw:6});
}
// ================= titles & annotations (left) =================
titleBox(470,65,915,194,['[1] theta and zenith','theta vs. time'],692,[122,172]);
titleBox(1123,43,1931,123,['[2] ROI radius vs. energy from PSF 68%'],1527,[100]);
titleBox(122,621,857,699,['[5] superimpose fit to LC (5s binning)'],490,[677]);
titleBox(1130,619,1922,697,['[3] Fit bkg vs. cos(theta) with pol2 (OFF)'],1526,[675]);
titleBox(122,1174,503,1254,['[6] subtract bkg'],312,[1229]);
titleBox(1130,1164,1702,1243,['[4] Show fit residuals (OFF)'],1416,[1222]);
{
  const a=svg.append('g');
  [['ROI radius <10 deg (PSF truncation) to',434],['increase the SNR and to avoid albedo',487],['space gradient (zenith theta >100)',540]].forEach(d=>txt(a,1402,d[1],d[0],{fs:40,anchor:'middle',fill:'#111'}));
  arrow(a,1319,380,1433,164,{w:2,h:22,hw:8});
  txt(a,324,762,'OFF',{fs:40,anchor:'middle',fw:'bold',fill:'#111'});
  txt(a,725,772,'ON',{fs:40,anchor:'middle',fw:'bold',fill:'#111'});
  arrow(a,330,776,330,1008,{w:2,h:20,hw:7});
  arrow(a,330,776,845,972,{w:2,h:20,hw:7});
  arrow(a,695,785,612,937,{w:2,h:20,hw:7});
  [['Lines show allowed',1355],['fluctuation, i.e.',1408],['sqrt(B+errB^2)',1460]].forEach(d=>txt(a,305,d[1],d[0],{fs:40,anchor:'middle',fill:'#111'}));
  arrow(a,311,1480,311,1606,{w:1.6,h:18,hw:6});
}
// ================= PRELIMINARY banners =================
function banner(cx,cy,ang,L,W,fs){
  const g=svg.append('g').attr('transform',`translate(${cx},${cy}) rotate(${ang})`);
  g.append('rect').attr('x',-L/2).attr('y',-W/2).attr('width',L).attr('height',W).attr('fill','#ffff8c').attr('opacity',0.55);
  g.append('text').attr('x',0).attr('y',fs*0.36).attr('text-anchor','middle').attr('font-size',fs).attr('font-weight','bold')
    .attr('font-family',FONT).attr('fill','#ff6633').text('PRELIMINARY');
}
banner(1088,786,48,690,150,80);
banner(2541,906,-46,672,142,80);
</script>
</body></html>
